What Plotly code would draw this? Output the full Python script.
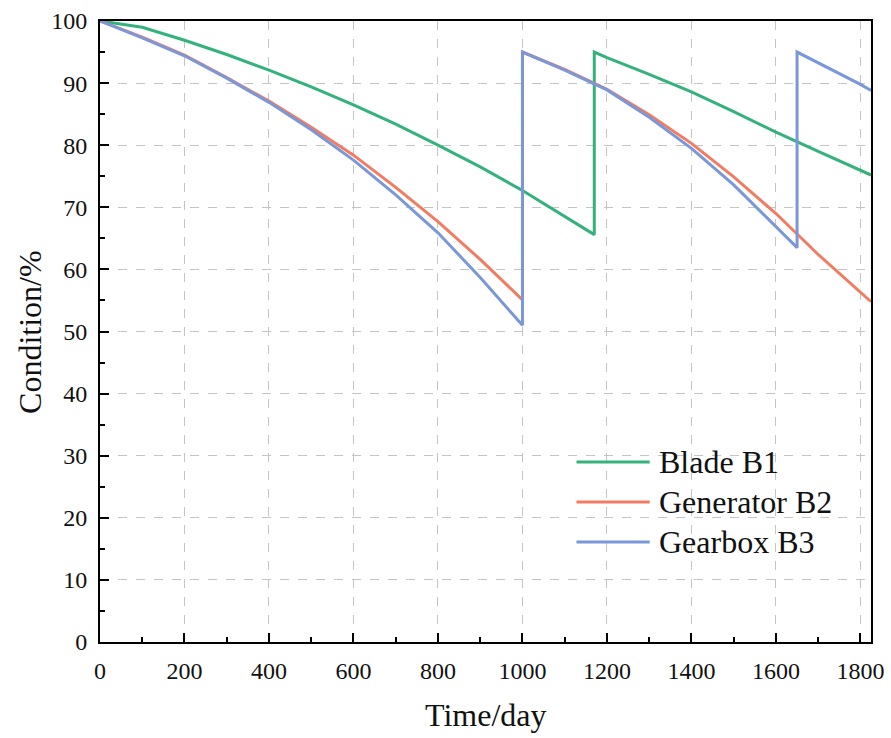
import plotly.graph_objects as go

# Component condition over a five-year horizon (days), with maintenance resets
days_blade = [0, 100, 200, 300, 400, 500, 600, 700, 800, 900, 1000, 1100, 1170,
              1170, 1200, 1300, 1400, 1500, 1600, 1700, 1800, 1825]
cond_blade = [100, 99.0, 96.9, 94.6, 92.1, 89.4, 86.5, 83.4, 80.0, 76.5, 72.7, 68.6, 65.6,
              95.0, 94.1, 91.4, 88.6, 85.4, 82.1, 79.0, 76.0, 75.2]

days_gen = [0, 100, 200, 300, 400, 500, 600, 700, 800, 900, 1000,
            1000, 1100, 1200, 1300, 1400, 1500, 1600, 1700, 1800, 1825]
cond_gen = [100, 97.4, 94.5, 90.9, 87.1, 82.9, 78.4, 73.2, 67.7, 61.6, 55.1,
            95.0, 92.2, 89.0, 84.9, 80.3, 74.9, 69.0, 62.4, 56.4, 54.8]

days_gear = [0, 100, 200, 300, 400, 500, 600, 700, 800, 900, 1000,
             1000, 1100, 1200, 1300, 1400, 1500, 1600, 1650,
             1650, 1700, 1750, 1800, 1825]
cond_gear = [100, 97.3, 94.4, 90.8, 86.9, 82.5, 77.6, 72.0, 65.9, 58.7, 51.0,
             95.0, 92.1, 88.9, 84.5, 79.5, 73.6, 66.8, 63.5,
             95.0, 93.3, 91.6, 89.8, 88.8]

x_ticks = [0, 200, 400, 600, 800, 1000, 1200, 1400, 1600, 1800]
y_ticks = [0, 10, 20, 30, 40, 50, 60, 70, 80, 90, 100]

names = ["Blade B1", "Generator B2", "Gearbox B3"]
colors = ["#34b27d", "#f27b62", "#7a97da"]

FONT = "Times New Roman"
INK = "#111"

fig = go.Figure()
for d, c, n, col in zip([days_blade, days_gen, days_gear],
                        [cond_blade, cond_gen, cond_gear], names, colors):
    fig.add_trace(go.Scatter(x=d, y=c, mode="lines", name=n, showlegend=False,
                             line=dict(color=col, width=3)))

axis_common = dict(
    showline=True, linecolor="black", linewidth=2, mirror=True,
    ticks="inside", ticklen=9, tickwidth=2, tickcolor="black",
    showgrid=True, gridcolor="#c4c4c4", griddash="dash", gridwidth=1,
    zeroline=False, automargin=False,
    tickfont=dict(family=FONT, size=24, color=INK),
    ticklabelstandoff=6,
)

fig.update_xaxes(
    range=[0, 1825], tickvals=x_ticks, ticktext=[str(v) for v in x_ticks],
    minor=dict(ticks="inside", ticklen=5, tickwidth=2, tickcolor="black",
               dtick=100, tick0=0, showgrid=False),
    **axis_common,
)
fig.update_yaxes(
    range=[0, 100], tickvals=y_ticks, ticktext=[str(v) for v in y_ticks],
    minor=dict(ticks="inside", ticklen=5, tickwidth=2, tickcolor="black",
               dtick=5, tick0=0, showgrid=False),
    **axis_common,
)

# Axis titles
fig.add_annotation(text="Time/day", xref="paper", yref="paper",
                   x=0.5, y=-0.118, xanchor="center", yanchor="middle",
                   showarrow=False, font=dict(family=FONT, size=32, color=INK))
fig.add_annotation(text="Condition/%", xref="paper", yref="paper",
                   x=-0.091, y=0.499, xanchor="center", yanchor="middle",
                   textangle=-90, showarrow=False,
                   font=dict(family=FONT, size=32, color=INK))

# Legend: sample line plus series name for each component
legend_x0, legend_x1, legend_tx = 0.618, 0.713, 0.722
legend_rows = [0.290, 0.2255, 0.161]
for n, col, ly in zip(names, colors, legend_rows):
    fig.add_shape(type="line", xref="paper", yref="paper",
                  x0=legend_x0, x1=legend_x1, y0=ly, y1=ly,
                  line=dict(color=col, width=3))
    fig.add_annotation(text=n, xref="paper", yref="paper",
                       x=legend_tx, y=ly, xanchor="left", yanchor="middle",
                       showarrow=False, font=dict(family=FONT, size=32, color=INK))

fig.update_layout(
    width=891, height=738,
    margin=dict(l=100, r=20, t=21, b=96),
    font=dict(family=FONT, color=INK),
    paper_bgcolor="white", plot_bgcolor="white",
    showlegend=False,
)

fig.write_html("out.html")
